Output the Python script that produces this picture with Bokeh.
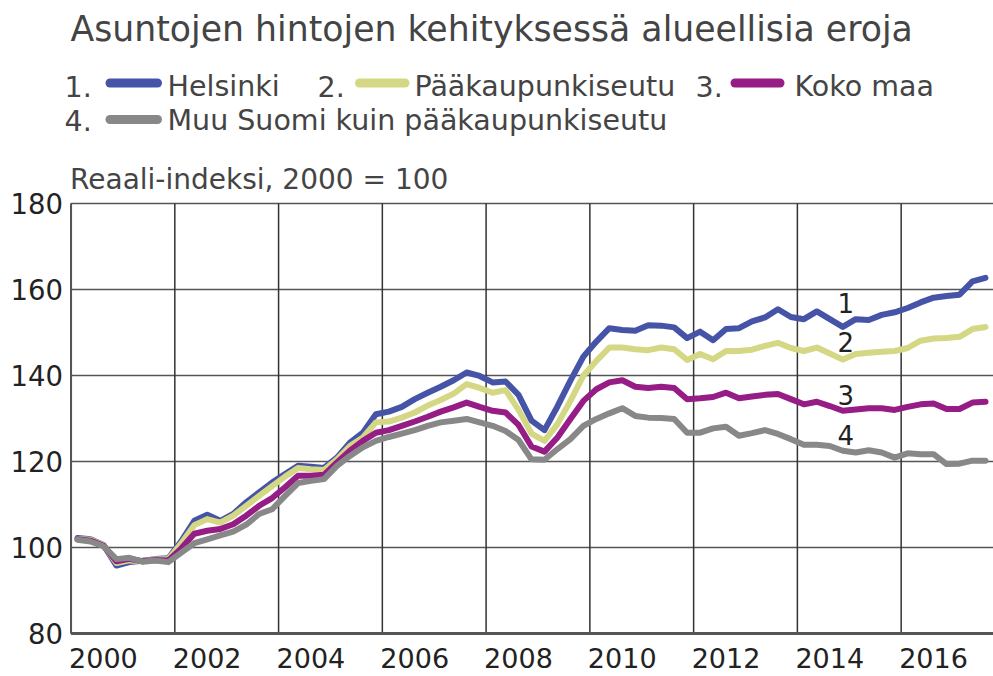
from bokeh.plotting import figure
from bokeh.layouts import column
from bokeh.models import Range1d
from bokeh.core.properties import value
from bokeh.embed import file_html
from bokeh.resources import INLINE

# ---------------- data ----------------
title_text = "Asuntojen hintojen kehityksessä alueellisia eroja"
subtitle_text = "Reaali-indeksi, 2000 = 100"
series_names = ["Helsinki", "Pääkaupunkiseutu", "Koko maa", "Muu Suomi kuin pääkaupunkiseutu"]
series_numbers = ["1.", "2.", "3.", "4."]
line_labels = ["1", "2", "3", "4"]
first_year = 2000
last_year = 2017
last_quarter = 3
x_ticks = [2000, 2002, 2004, 2006, 2008, 2010, 2012, 2014, 2016]
y_ticks = [80, 100, 120, 140, 160, 180]

helsinki = [
    102.2, 101.9, 100.6, 95.8, 96.6, 96.9, 97.3, 97.5,
    101.5, 106.2, 107.6, 106.2, 107.8, 110.5, 112.8, 115.1,
    117.1, 119.0, 118.8, 118.5, 120.9, 124.4, 126.7, 131.0,
    131.6, 132.7, 134.5, 136.0, 137.4, 138.9, 140.7, 139.9,
    138.4, 138.6, 135.5, 129.5, 127.3, 132.8, 138.8, 144.4,
    147.9, 151.0, 150.6, 150.4, 151.7, 151.6, 151.2, 148.7,
    150.2, 148.2, 150.8, 151.0, 152.6, 153.5, 155.4, 153.6,
    153.1, 154.9, 153.1, 151.3, 153.1, 152.9, 154.1, 154.7,
    155.7, 157.0, 158.1, 158.5, 158.8, 161.9, 162.7,
]
paakaupunkiseutu = [
    102.0, 101.8, 100.5, 96.4, 97.0, 96.8, 97.2, 97.3,
    101.0, 105.2, 106.6, 105.8, 107.4, 109.7, 112.0, 114.3,
    116.5, 118.5, 118.2, 118.0, 120.5, 123.6, 125.6, 129.1,
    129.3, 130.2, 131.4, 133.0, 134.3, 135.8, 138.0, 137.1,
    136.0, 136.6, 132.0, 126.5, 124.8, 128.7, 134.1, 140.0,
    143.4, 146.5, 146.5, 146.1, 145.9, 146.5, 146.1, 143.6,
    145.0, 143.8, 145.7, 145.7, 146.0, 146.9, 147.6, 146.4,
    145.7, 146.5, 145.1, 143.7, 145.0, 145.3, 145.5, 145.7,
    146.4, 148.1, 148.6, 148.7, 149.0, 150.8, 151.3,
]
koko_maa = [
    101.9, 101.6, 100.4, 96.8, 97.4, 96.8, 97.1, 97.0,
    99.8, 103.2, 103.9, 104.3, 105.4, 107.4, 109.7, 111.5,
    114.0, 116.7, 116.7, 116.9, 119.8, 122.5, 124.8, 126.7,
    127.3, 128.3, 129.3, 130.4, 131.6, 132.6, 133.7, 132.7,
    131.8, 131.4, 128.5, 123.5, 122.3, 125.6, 129.9, 134.1,
    136.8, 138.4, 138.9, 137.4, 137.1, 137.4, 137.1, 134.5,
    134.7, 135.0, 136.0, 134.7, 135.1, 135.5, 135.7, 134.5,
    133.3, 133.9, 132.9, 131.8, 132.1, 132.4, 132.4, 132.0,
    132.7, 133.3, 133.5, 132.2, 132.2, 133.7, 133.9,
]
muu_suomi = [
    101.8, 101.4, 100.3, 97.3, 97.6, 96.7, 97.0, 96.6,
    98.8, 101.0, 101.9, 102.8, 103.7, 105.3, 107.8, 108.9,
    112.0, 115.0, 115.5, 115.9, 119.0, 121.3, 123.3, 124.8,
    125.7, 126.5, 127.3, 128.3, 129.1, 129.5, 129.9, 129.1,
    128.3, 127.1, 125.0, 120.5, 120.4, 122.9, 125.2, 128.3,
    129.9, 131.2, 132.4, 130.6, 130.2, 130.1, 129.9, 126.7,
    126.7, 127.7, 128.1, 126.0, 126.6, 127.3, 126.4, 125.2,
    123.9, 123.9, 123.6, 122.5, 122.1, 122.6, 122.1, 120.9,
    121.9, 121.7, 121.7, 119.4, 119.5, 120.2, 120.2,
]

# ---------------- styles ----------------
colors = ["#4654a8", "#d4d884", "#961c86", "#888888"]
FONT = value("DejaVu Sans")
TEXT_COLOR = "#444444"
TICK_COLOR = "#222222"

# quarter positions (mid-quarter)
quarters = [(y, q) for y in range(first_year, last_year + 1) for q in range(1, 5)
            if not (y == last_year and q > last_quarter)]
xq = [y + (q - 0.5) / 4.0 for (y, q) in quarters]
all_series = [helsinki, paakaupunkiseutu, koko_maa, muu_suomi]

W = 993
TOP_H = 150
MAIN_H = 526
# the frame is a little larger than the 2000-2017 / 80-180 box, leaving room
# for the tick labels and the sub-title around it
X_START, X_END = 1998.64, 2017.78
Y_START, Y_END = 70.0, 192.33
Y_MIN, Y_MAX = y_ticks[0], y_ticks[-1]

# ---------------- top figure: title + legend ----------------
top = figure(width=W, height=TOP_H, x_range=Range1d(0, W), y_range=Range1d(TOP_H, 0),
             toolbar_location=None, output_backend="svg", min_border=0,
             x_axis_location=None, y_axis_location=None)
top.grid.visible = False
top.outline_line_color = None

top.text(x=[70], y=[28], text=[title_text], text_font=FONT, text_font_size="34.7px",
         text_color=TEXT_COLOR, text_baseline="middle", text_align="left")

# legend layout: (number x, sample x0, sample x1, name x, text middle y, sample y)
legend_layout = [
    (64, 109.5, 157, 167, 86, 82.5),
    (317, 359, 404.5, 414, 86, 82.5),
    (695, 734.5, 779.5, 794, 86, 82.5),
    (64, 109.5, 157, 167, 119.5, 119),
]
for (nx, sx0, sx1, tx, ty, sy), num, name, col in zip(legend_layout, series_numbers, series_names, colors):
    top.text(x=[nx], y=[ty], text=[num], text_font=FONT, text_font_size="28.5px",
             text_color=TEXT_COLOR, text_baseline="middle", text_align="left")
    top.segment(x0=[sx0], y0=[sy], x1=[sx1], y1=[sy], line_color=col, line_width=9,
                line_cap="round")
    top.text(x=[tx], y=[ty], text=[name], text_font=FONT, text_font_size="28.5px",
             text_color=TEXT_COLOR, text_baseline="middle", text_align="left")

# ---------------- main chart ----------------
p = figure(width=W, height=MAIN_H, x_range=Range1d(X_START, X_END),
           y_range=Range1d(Y_START, Y_END),
           toolbar_location=None, output_backend="svg", min_border=0,
           x_axis_location=None, y_axis_location=None)
p.grid.visible = False
p.outline_line_color = None

x0 = x_ticks[0]
# horizontal grid lines
p.segment(x0=[x0] * len(y_ticks), y0=y_ticks, x1=[X_END] * len(y_ticks), y1=y_ticks,
          line_color="#555555", line_width=1.5)
# vertical grid lines
p.segment(x0=x_ticks, y0=[Y_MIN] * len(x_ticks), x1=x_ticks, y1=[Y_MAX] * len(x_ticks),
          line_color="#333333", line_width=1.5)
# axis lines
p.segment(x0=[x0], y0=[Y_MIN], x1=[x0], y1=[Y_MAX], line_color="#555555", line_width=2)
p.segment(x0=[x0], y0=[Y_MIN], x1=[X_END], y1=[Y_MIN], line_color="#555555", line_width=3)

# tick labels
p.text(x=[x0] * len(y_ticks), y=y_ticks, text=[str(v) for v in y_ticks], x_offset=-8,
       text_font=FONT, text_font_size="27.5px", text_color=TICK_COLOR,
       text_align="right", text_baseline="middle")
p.text(x=x_ticks, y=[Y_MIN] * len(x_ticks), text=[str(v) for v in x_ticks],
       x_offset=-2, y_offset=24,
       text_font=FONT, text_font_size="27px", text_color=TICK_COLOR,
       text_align="left", text_baseline="middle")

# sub-title above the axis
p.text(x=[x0], y=[Y_MAX], text=[subtitle_text], x_offset=-1, y_offset=-24,
       text_font=FONT, text_font_size="28px", text_color=TEXT_COLOR,
       text_align="left", text_baseline="middle")

for s, col in zip(all_series, colors):
    p.line(xq, s, line_color=col, line_width=6, line_join="round", line_cap="round")

label_idx = 59
label_offsets = [-24, -18, -16, -16]
for s, lab, off in zip(all_series, line_labels, label_offsets):
    p.text(x=[xq[label_idx]], y=[s[label_idx]], text=[lab], y_offset=off, x_offset=3,
           text_font=FONT, text_font_size="26px", text_color=TICK_COLOR,
           text_align="center", text_baseline="middle")

layout = column(top, p, spacing=0)
open("out.html", "w").write(file_html(layout, INLINE))
